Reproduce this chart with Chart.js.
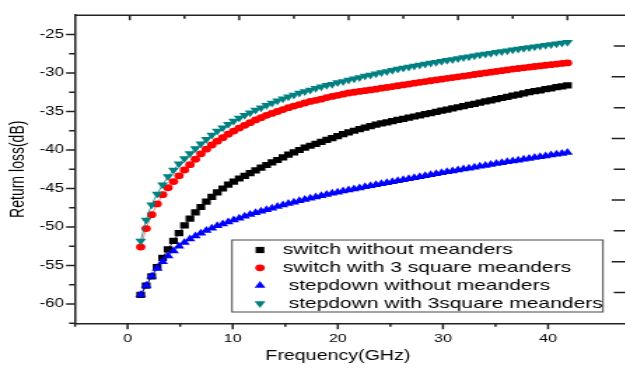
<!DOCTYPE html>
<html>
<head>
<meta charset="utf-8">
<script src="https://cdn.jsdelivr.net/npm/chart.js@4.4.1/dist/chart.umd.min.js"></script>
<style>
	html, body { margin: 0; padding: 0; background: #fff; overflow: hidden; }
	/* the source figure is stretched sideways, so the canvas is too */
	#wrap { width: 455px; height: 371px; transform: scaleX(1.4); transform-origin: 0 0; }
</style>
</head>
<body>
<div id="wrap"><canvas id="chart1" width="455" height="371"></canvas></div>
<script>
// Frequency points (GHz)
const freqGHz = [1, 1.5, 2, 2.5, 3, 3.5, 4, 4.5, 5, 5.5, 6, 6.5, 7, 7.5, 8, 8.5, 9, 9.5, 10, 10.5,
	11, 11.5, 12, 12.5, 13, 13.5, 14, 14.5, 15, 15.5, 16, 16.5, 17, 17.5, 18, 18.5, 19, 19.5, 20, 20.5,
	21, 21.5, 22, 22.5, 23, 23.5, 24, 24.5, 25, 25.5, 26, 26.5, 27, 27.5, 28, 28.5, 29, 29.5, 30, 30.5,
	31, 31.5, 32, 32.5, 33, 33.5, 34, 34.5, 35, 35.5, 36, 36.5, 37, 37.5, 38, 38.5, 39, 39.5, 40];

// Return loss (dB), one list per structure
const switchPlain = [-58.8, -57.6, -56.4, -55.2, -54.0, -52.9, -51.8, -50.8, -49.8, -48.9,
	-48.1, -47.4, -46.7, -46.1, -45.5, -45.0, -44.5, -44.1, -43.7, -43.35,
	-43.0, -42.65, -42.3, -41.95, -41.6, -41.3, -40.95, -40.6, -40.3, -40.0,
	-39.7, -39.45, -39.2, -38.95, -38.7, -38.45, -38.2, -37.95, -37.7, -37.5,
	-37.3, -37.1, -36.9, -36.7, -36.55, -36.4, -36.25, -36.1, -35.95, -35.8,
	-35.65, -35.5, -35.35, -35.2, -35.05, -34.9, -34.75, -34.6, -34.45, -34.3,
	-34.15, -34.0, -33.85, -33.7, -33.55, -33.4, -33.25, -33.1, -32.95, -32.8,
	-32.65, -32.5, -32.35, -32.25, -32.1, -32.0, -31.85, -31.75, -31.6];
const switchMeander = [-52.6, -50.2, -48.4, -47.0, -45.8, -44.9, -44.1, -43.35, -42.6, -41.9,
	-41.2, -40.5, -39.9, -39.35, -38.85, -38.4, -37.95, -37.55, -37.15, -36.8,
	-36.45, -36.1, -35.8, -35.5, -35.25, -35.0, -34.75, -34.5, -34.3, -34.1,
	-33.9, -33.7, -33.55, -33.4, -33.2, -33.05, -32.9, -32.75, -32.6, -32.5,
	-32.4, -32.3, -32.2, -32.1, -31.98, -31.88, -31.77, -31.66, -31.55, -31.44,
	-31.33, -31.22, -31.12, -31.01, -30.9, -30.8, -30.7, -30.6, -30.5, -30.4,
	-30.3, -30.2, -30.1, -30.0, -29.9, -29.8, -29.7, -29.6, -29.5, -29.42,
	-29.33, -29.25, -29.16, -29.08, -29.0, -28.92, -28.84, -28.76, -28.7];
const stepdownPlain = [-58.8, -57.6, -56.4, -55.4, -54.5, -53.75, -53.1, -52.5, -52.0, -51.55,
	-51.15, -50.8, -50.45, -50.15, -49.85, -49.6, -49.35, -49.1, -48.85, -48.6,
	-48.38, -48.16, -47.95, -47.75, -47.55, -47.35, -47.15, -46.95, -46.77, -46.6,
	-46.43, -46.26, -46.1, -45.94, -45.78, -45.62, -45.47, -45.32, -45.2, -45.06,
	-44.92, -44.78, -44.64, -44.5, -44.37, -44.24, -44.11, -43.98, -43.85, -43.72,
	-43.59, -43.46, -43.33, -43.2, -43.08, -42.96, -42.84, -42.72, -42.6, -42.48,
	-42.36, -42.24, -42.12, -42.0, -41.88, -41.76, -41.65, -41.54, -41.43, -41.32,
	-41.21, -41.1, -40.99, -40.88, -40.77, -40.66, -40.55, -40.44, -40.33];
const stepdownMeander = [-51.8, -49.1, -47.1, -45.7, -44.5, -43.45, -42.6, -41.8, -41.1, -40.45,
	-39.8, -39.2, -38.6, -38.05, -37.55, -37.1, -36.65, -36.25, -35.85, -35.5,
	-35.15, -34.8, -34.5, -34.2, -33.9, -33.6, -33.35, -33.1, -32.85, -32.6,
	-32.4, -32.2, -32.0, -31.8, -31.6, -31.45, -31.25, -31.1, -30.9, -30.75,
	-30.6, -30.4, -30.25, -30.1, -29.95, -29.8, -29.65, -29.5, -29.37, -29.24,
	-29.1, -28.97, -28.84, -28.72, -28.6, -28.48, -28.36, -28.24, -28.12, -28.0,
	-27.88, -27.76, -27.65, -27.54, -27.43, -27.32, -27.21, -27.1, -27.0, -26.9,
	-26.8, -26.7, -26.6, -26.5, -26.4, -26.3, -26.2, -26.1, -26.0];

const seriesLabels = ['switch without meanders', 'switch with 3 square meanders',
	' stepdown without meanders', ' stepdown with 3square meanders'];

// Tick labels and tick marks
const xTickLabels = [0, 10, 20, 30, 40];
const yTickLabels = [-60, -55, -50, -45, -40, -35, -30, -25];
const xBottomMarks = [-5, 0, 5, 10, 15, 20, 25, 30, 35, 40];
const xTopMarks = [0, 5, 10, 15, 20, 25, 30, 35, 40];
const yLeftMarks = [-62.5, -60, -57.5, -55, -52.5, -50, -47.5, -45, -42.5, -40, -37.5, -35, -32.5, -30, -27.5, -25];
const yRightMarks = [1, 2, 3, 4, 5, 6, 7, 8, 9];

const fontFamily = '"Liberation Sans", Arial, sans-serif';
const axisColor = '#222';

const toPoints = (vals) => freqGHz.map((f, i) => ({ x: f, y: vals[i] }));

// Draws the frame and all the small tick marks
const frameTicks = {
	id: 'frameTicks',
	afterDraw(chart) {
		const ctx = chart.ctx;
		const a = chart.chartArea;
		const xb = chart.scales.x, xt = chart.scales.xTop, yl = chart.scales.y, yr = chart.scales.yRight;
		ctx.save();
		ctx.strokeStyle = axisColor;
		ctx.lineWidth = 1.5;
		ctx.beginPath();
		ctx.moveTo(a.left, a.top);
		ctx.lineTo(a.right, a.top);
		ctx.lineTo(a.right, a.bottom);
		xBottomMarks.forEach(v => {
			const px = xb.getPixelForValue(v);
			const len = (v % 10 === 0) ? 6 : 3.5;
			ctx.moveTo(px, a.bottom);
			ctx.lineTo(px, a.bottom + len);
		});
		xTopMarks.forEach(v => {
			const px = xt.getPixelForValue(v);
			const len = (v % 10 === 0) ? 5 : 3.5;
			ctx.moveTo(px, a.top);
			ctx.lineTo(px, a.top + len);
		});
		yLeftMarks.forEach(v => {
			const py = yl.getPixelForValue(v);
			const len = (v % 5 === 0) ? 6.4 : 4.3;
			ctx.moveTo(a.left, py);
			ctx.lineTo(a.left - len, py);
		});
		yRightMarks.forEach(v => {
			const py = yr.getPixelForValue(v);
			const len = (v % 2 === 0) ? 13.6 : 12.1;
			ctx.moveTo(a.right, py);
			ctx.lineTo(a.right - len, py);
		});
		ctx.stroke();

		// x axis title, centred on the -5..45 span of the bottom axis
		ctx.fillStyle = '#000';
		ctx.font = '14px ' + fontFamily;
		ctx.textAlign = 'center';
		ctx.textBaseline = 'middle';
		ctx.fillText('Frequency(GHz)', xb.getPixelForValue(20), 356);
		ctx.restore();
	}
};

// Boxed legend inside the plot
const boxLegend = {
	id: 'boxLegend',
	afterDatasetsDraw(chart) {
		const ctx = chart.ctx;
		const x0 = 165.7, y0 = 240, w = 265, h = 72;
		ctx.save();
		ctx.strokeStyle = '#444';
		ctx.lineWidth = 1;
		ctx.strokeRect(x0, y0, w, h);
		ctx.font = '15px ' + fontFamily;
		ctx.textAlign = 'left';
		ctx.textBaseline = 'middle';
		chart.data.datasets.forEach((ds, i) => {
			const cy = y0 + 10 + i * 17.8;
			ctx.fillStyle = ds.pointBackgroundColor;
			Chart.helpers.drawPoint(ctx, {
				pointStyle: ds.pointStyle,
				radius: ds.pointRadius,
				rotation: ds.pointRotation || 0,
				borderWidth: 0
			}, 185.7, cy);
			ctx.fillStyle = '#000';
			ctx.fillText(ds.label, 202, cy);
		});
		ctx.restore();
	}
};

const dataChart1 = {
	datasets: [{
		label: seriesLabels[0],
		data: toPoints(switchPlain),
		pointStyle: 'rect',
		pointRadius: 4.4,
		pointBackgroundColor: '#000000',
		borderColor: '#000000',
		order: 4
	}, {
		label: seriesLabels[1],
		data: toPoints(switchMeander),
		pointStyle: 'circle',
		pointRadius: 3.4,
		pointBackgroundColor: '#ff0000',
		borderColor: '#ff6060',
		order: 3
	}, {
		label: seriesLabels[2],
		data: toPoints(stepdownPlain),
		pointStyle: 'triangle',
		pointRadius: 4.5,
		pointBackgroundColor: '#0000ff',
		borderColor: '#0000ff',
		order: 2
	}, {
		label: seriesLabels[3],
		data: toPoints(stepdownMeander),
		pointStyle: 'triangle',
		pointRotation: 180,
		pointRadius: 4.5,
		pointBackgroundColor: '#008080',
		borderColor: '#008080',
		order: 1
	}]
};
dataChart1.datasets.forEach(ds => {
	ds.xAxisID = 'xTop';
	ds.yAxisID = 'y';
	ds.showLine = true;
	ds.borderWidth = 0.8;
	ds.pointBorderWidth = 0;
});

const configChart1 = {
	type: 'scatter',
	data: dataChart1,
	options: {
		responsive: false,
		animation: false,
		devicePixelRatio: 1,
		events: [],
		layout: {
			padding: { top: 10, right: 0, left: 0, bottom: 0 }
		},
		plugins: {
			legend: { display: false },
			tooltip: { enabled: false },
			title: { display: false }
		},
		scales: {
			x: {
				type: 'linear',
				position: 'bottom',
				min: -5,
				max: 47.86,
				afterBuildTicks: s => { s.ticks = xTickLabels.map(v => ({ value: v })); },
				afterFit: s => { s.height = 47.7; },
				grid: { display: false, drawTicks: false },
				border: { display: true, color: axisColor, width: 1.5 },
				ticks: { color: '#000', font: { family: fontFamily, size: 11.5 }, padding: 9, maxRotation: 0 }
			},
			xTop: {
				type: 'linear',
				position: 'top',
				display: false,
				min: -5,
				max: 45.78
			},
			y: {
				type: 'linear',
				position: 'left',
				min: -62.5,
				max: -22.5,
				afterBuildTicks: s => { s.ticks = yTickLabels.map(v => ({ value: v })); },
				afterFit: s => { s.width = 53.6; },
				grid: { display: false, drawTicks: false },
				border: { display: true, color: axisColor, width: 1.5 },
				ticks: { color: '#000', font: { family: fontFamily, size: 12 }, padding: 8 },
				title: {
					display: true,
					text: 'Return loss(dB)',
					color: '#000',
					font: { family: fontFamily, size: 14 },
					padding: { top: 5, bottom: 0 }
				}
			},
			yRight: {
				type: 'linear',
				position: 'right',
				display: false,
				reverse: true,
				min: 0,
				max: 10
			}
		}
	},
	plugins: [frameTicks, boxLegend]
};

const myChart1 = new Chart(document.getElementById('chart1'), configChart1);
</script>
</body>
</html>
